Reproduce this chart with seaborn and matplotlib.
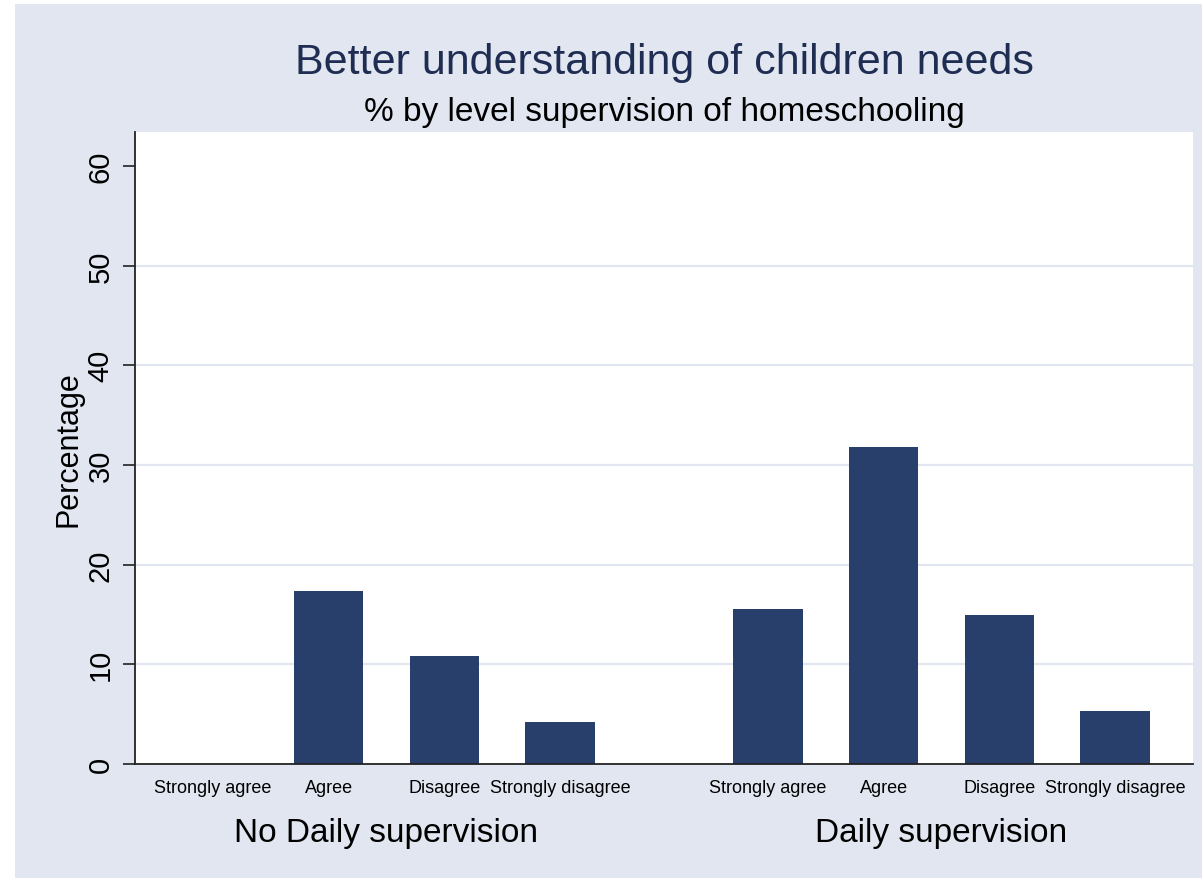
import matplotlib
matplotlib.use("Agg")
import matplotlib.pyplot as plt
import matplotlib.patches as mpatches
import matplotlib.transforms as mtransforms
import seaborn as sns
import pandas as pd

# ---- data ----
groups = ["No Daily supervision", "Daily supervision"]
categories = ["Strongly agree", "Agree", "Disagree", "Strongly disagree"]
no_daily = [0.0, 17.4, 10.8, 4.2]
daily = [15.5, 31.8, 14.9, 5.3]
yticks = [0, 10, 20, 30, 40, 50, 60]

title = "Better understanding of children needs"
subtitle = "% by level supervision of homeschooling"
ylabel = "Percentage"

# ---- style / layout ----
GROUP_GAP = 0.8
BAR_WIDTH = 0.6
BG = "#E1E6F0"
BAR = "#283F6C"
GRID = "#E1E6F0"
TITLE_C = "#1F2D52"

rows = []
for g, vals in enumerate([no_daily, daily]):
    for i, (cat, v) in enumerate(zip(categories, vals)):
        rows.append({"group": groups[g], "category": cat, "value": v,
                     "pos": g * (len(categories) + GROUP_GAP) + i})
df = pd.DataFrame(rows)

sns.set_theme(style="white")
plt.rcParams['font.family'] = ['Liberation Sans', 'DejaVu Sans']
plt.rcParams['text.color'] = 'black'
plt.rcParams['axes.labelcolor'] = 'black'
plt.rcParams['xtick.color'] = 'black'
plt.rcParams['ytick.color'] = 'black'

W, H = 1202, 879
fig = plt.figure(figsize=(W / 100, H / 100), dpi=100, facecolor="white")
fig.patches.append(mpatches.Rectangle((15 / W, 0), 1 - 15 / W, 1 - 5 / H,
                                      transform=fig.transFigure, facecolor=BG,
                                      edgecolor="none", zorder=-10))

left, right, top, bottom = 135, 1193, 133, 765
ax = fig.add_axes([left / W, 1 - bottom / H, (right - left) / W, (bottom - top) / H])
ax.set_facecolor("white")

sns.barplot(data=df, x="pos", y="value", native_scale=True, width=BAR_WIDTH,
            color=BAR, saturation=1, linewidth=0, errorbar=None, ax=ax)

npos = len(categories)
ax.set_xlim(-0.675, (npos + GROUP_GAP) + npos - 1 + 0.675)
ax.set_ylim(0, 63.4)
ax.set_yticks(yticks)
ax.set_yticklabels([str(t) for t in yticks], fontsize=21, rotation=90, va="center")
ax.set_xticks(df["pos"])
ax.set_xticklabels(df["category"], fontsize=13)
ax.set_xlabel("")
ax.set_ylabel(ylabel, fontsize=22)
ax.yaxis.set_label_coords(-0.049, 0.5)

ax.tick_params(axis="x", length=0, pad=11, labelcolor="black")
ax.tick_params(axis="y", length=8.5, width=1.2, color="#222222", pad=6, left=True,
               labelcolor="black")

ax.set_axisbelow(True)
ax.yaxis.grid(True, color=GRID, linewidth=1.6)
gl = ax.get_ygridlines()
gl[0].set_visible(False)
gl[-1].set_visible(False)
ax.xaxis.grid(False)

for s in ["top", "right"]:
    ax.spines[s].set_visible(False)
for s in ["left", "bottom"]:
    ax.spines[s].set_visible(True)
    ax.spines[s].set_color("#222222")
    ax.spines[s].set_linewidth(1.3)

trans = mtransforms.blended_transform_factory(ax.transData, ax.transAxes)
for g, name in enumerate(groups):
    sub = df[df["group"] == name]["pos"]
    cx = (sub.min() + sub.max()) / 2
    ax.text(cx, (bottom - 834) / (bottom - top), name, transform=trans,
            ha="center", va="center", fontsize=24, color="black")

cx_fig = (left + right) / 2 / W
fig.text(cx_fig, 1 - 63 / H, title, ha="center", va="center", fontsize=31, color=TITLE_C)
fig.text(cx_fig, 1 - 112 / H, subtitle, ha="center", va="center", fontsize=24, color="black")

fig.savefig("out.png", dpi=100, facecolor=fig.get_facecolor())
